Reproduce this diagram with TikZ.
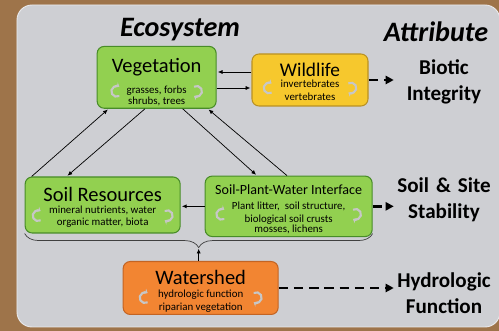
\documentclass[tikz,border=0pt]{standalone}
\usepackage{fontspec}
\setmainfont{Carlito}
\definecolor{woodbrown}{RGB}{158, 116, 74}
\definecolor{panelgray}{RGB}{206, 207, 211}
\definecolor{leafgreen}{RGB}{146, 208, 80}
\definecolor{leafedge}{RGB}{72, 140, 40}
\definecolor{wildgold}{RGB}{246, 200, 45}
\definecolor{wildedge}{RGB}{185, 145, 35}
\definecolor{shedorange}{RGB}{242, 133, 50}
\definecolor{shededge}{RGB}{195, 100, 35}
\usepackage{tikz}
\usetikzlibrary{arrows.meta, calc, decorations.pathreplacing}

\newcommand{\turnicons}[3]{%
  \draw[turn] ($(#1)+(-#2,-#3)+(0.08,-0.14)$) arc[start angle=-60, end angle=-300, radius=0.16];
  \draw[turn] ($(#1)+(#2,-#3)+(-0.08,0.14)$) arc[start angle=120, end angle=-120, radius=0.16];
}

\begin{document}
\begin{tikzpicture}[
  sysbox/.style={draw, line width=0.9pt, rounded corners=6pt, align=center, inner sep=2pt,
    font=\fontsize{9.3}{10.8}\selectfont},
  attr/.style={font=\fontsize{18}{22}\selectfont\bfseries, align=center, text width=3cm, inner sep=0pt},
  link/.style={-{Latex[length=4pt, width=3.5pt]}, line width=0.6pt, shorten >=1pt},
  flow/.style={-{Triangle[length=7pt, width=7pt]}, line width=2pt, dash pattern=on 8pt off 5pt},
  turn/.style={draw=white!78!black, line width=1.8pt, -{Stealth[length=3pt, width=5pt]}}
]
  \useasboundingbox (0, 0) rectangle (14.97, 9.93);
  \fill[woodbrown] (0, 0) rectangle (14.97, 9.93);
  \filldraw[fill=panelgray, draw=white!55!panelgray, line width=0.8pt, rounded corners=0.45cm]
    (0.51, 0.12) rectangle (15.0, 9.78);

  \node (eco) at (5.40, 9.03) {\fontsize{24}{28}\selectfont\bfseries\itshape Ecosystem};
  \node (attrib) at (13.08, 8.97) {\fontsize{24}{28}\selectfont\bfseries\itshape Attribute};

  \node[sysbox, fill=leafgreen, draw=leafedge, minimum width=3.57cm, minimum height=1.65cm]
    (veg) at (4.70, 7.61) {
    {\fontsize{17.5}{20}\selectfont\rule{0pt}{20pt}Vegetation}\\[7.5pt]
    grasses, forbs\\[-1.5pt]
    shrubs, trees
  };
  \node[sysbox, fill=wildgold, draw=wildedge, minimum width=3.48cm, minimum height=1.56cm]
    (wild) at (9.30, 7.53) {
    {\fontsize{16.5}{20}\selectfont\rule{0pt}{14pt}Wildlife}\\[-1pt]
    invertebrates\\
    vertebrates
  };
  \node[sysbox, fill=leafgreen, draw=leafedge, minimum width=4.65cm, minimum height=1.68cm]
    (sr) at (3.08, 3.78) {
    {\fontsize{17.5}{20}\selectfont\rule{0pt}{16pt}Soil Resources}\\[-0.5pt]
    mineral nutrients, water\\
    organic matter, biota
  };
  \node[sysbox, fill=leafgreen, draw=leafedge, minimum width=5.01cm, minimum height=1.65cm]
    (spw) at (8.66, 3.74) {
    {\fontsize{12}{14}\selectfont\rule{0pt}{13.5pt}Soil-Plant-Water Interface}\\[2.5pt]
    Plant litter,\ \ soil structure,\\
    biological soil crusts\\[-2pt]
    mosses, lichens
  };
  \node[sysbox, fill=shedorange, draw=shededge, minimum width=4.65cm, minimum height=1.56cm]
    (ws) at (6.02, 1.29) {
    {\fontsize{17.5}{20}\selectfont\rule{0pt}{18pt}Watershed}\\[0pt]
    hydrologic function\\
    riparian vegetation
  };

  \node[attr] (bio) at (13.32, 7.47) {Biotic\\Integrity};
  \node[attr] (stab) at (13.32, 3.93) {Soil \& Site\\Stability};
  \node[attr] (hyd) at (13.32, 1.14) {Hydrologic\\Function};

  \turnicons{veg}{1.2}{0.42}
  \turnicons{wild}{1.23}{0.24}
  \turnicons{sr}{1.94}{0.32}
  \turnicons{spw}{2.01}{0.24}
  \turnicons{ws}{1.67}{0.29}

  \draw[link] ([yshift=0.24cm]wild.west) -- ([yshift=0.24cm]wild.west -| veg.east);
  \draw[link] ([yshift=-0.24cm]wild.west -| veg.east) -- ([yshift=-0.24cm]wild.west);
  \draw[link] ([xshift=0.21cm]sr.north west) -- ([xshift=0.36cm]veg.south west);
  \draw[link] ([xshift=-0.35cm]veg.south) -- ([xshift=1.26cm]sr.north west);
  \draw[link] ([xshift=-1.02cm]veg.south east) -- ([xshift=-0.95cm]spw.north);
  \draw[link] ([xshift=-0.05cm]spw.north) -- ([xshift=-0.27cm]veg.south east);
  \draw[link, line width=1.2pt] (spw.west) -- (spw.west -| sr.east);

  \draw[flow] (wild.east) -- (wild.east -| bio.west);
  \draw[flow] (spw.east) -- (spw.east -| stab.west);
  \draw[flow] (ws.east) -- (ws.east -| hyd.west);

  \draw[black!75, line width=0.6pt, decorate, decoration={brace, mirror, amplitude=12pt}]
    (sr.south west) -- (sr.south west -| spw.south east);
  \coordinate (tip) at ($(sr.south west)!0.5!(sr.south west -| spw.south east)+(0,-12pt)$);
  \draw[link] (ws.north -| tip) -- (tip);
\end{tikzpicture}
\end{document}
